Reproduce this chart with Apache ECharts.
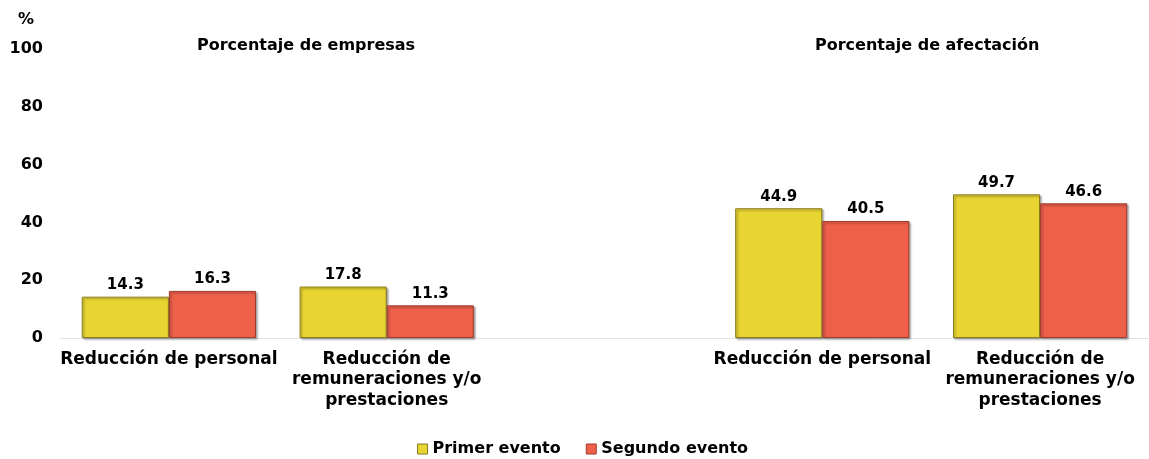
<!DOCTYPE html>
<html lang="es">
<head>
    <meta charset="UTF-8">
    <title>Reducción de personal y remuneraciones</title>
    <style type="text/css">
        html, body { margin: 0; padding: 0; background: #fff; }
        #chart { width: 1149px; height: 459px; }
    </style>
</head>
<body>
<div id="chart"></div>
<script src="https://cdn.jsdelivr.net/npm/echarts@6/dist/echarts.min.js"></script>
<script>
    // categorias (la del medio queda vacia para separar los dos bloques)
    var categorias = ['Reducción de personal', 'Reducción de\nremuneraciones y/o\nprestaciones', '',
        'Reducción de personal', 'Reducción de\nremuneraciones y/o\nprestaciones'];
    var primerEvento = [14.3, 17.8, '-', 44.9, 49.7];
    var segundoEvento = [16.3, 11.3, '-', 40.5, 46.6];
    var ticksY = [0, 20, 40, 60, 80, 100];

    var fuente = '"DejaVu Sans", Verdana, sans-serif';
    var myChart = echarts.init(document.getElementById('chart'));

    function barra(nombre, datos, color, borde) {
        return {
            name: nombre,
            type: 'bar',
            data: datos,
            barGap: '0%',
            barCategoryGap: '20%',
            itemStyle: {
                color: color,
                borderColor: borde,
                borderWidth: 1,
                shadowColor: 'rgba(0,0,0,0.35)',
                shadowBlur: 2,
                shadowOffsetX: 1.5,
                shadowOffsetY: 1.5
            },
            label: {
                show: true,
                position: 'top',
                distance: 4,
                color: '#000',
                fontFamily: fuente,
                fontWeight: 'bold',
                fontSize: 15
            }
        };
    }

    var option = {
        animation: false,
        grid: { left: 60, right: -5, top: 49, bottom: 121 },
        legend: {
            top: 436,
            left: 412,
            itemWidth: 10,
            itemHeight: 10,
            itemGap: 25,
            icon: 'rect',
            textStyle: { fontFamily: fuente, fontWeight: 'bold', fontSize: 16, color: '#000' },
            data: [
                { name: 'Primer evento', itemStyle: { borderColor: '#8a7a1c', borderWidth: 1 } },
                { name: 'Segundo evento', itemStyle: { borderColor: '#9e3b2c', borderWidth: 1 } }
            ]
        },
        graphic: [
            { type: 'text', left: 18, top: 12, style: { text: '%', font: 'bold 16px ' + fuente, fill: '#000' } },
            { type: 'text', left: 197, top: 38, style: { text: 'Porcentaje de empresas', font: 'bold 16px ' + fuente, fill: '#000' } },
            { type: 'text', left: 815, top: 38, style: { text: 'Porcentaje de afectación', font: 'bold 16px ' + fuente, fill: '#000' } }
        ],
        xAxis: {
            type: 'category',
            data: categorias,
            axisTick: { show: false },
            axisLine: { lineStyle: { color: '#e3e3e3', width: 1 } },
            axisLabel: {
                interval: 0,
                margin: 11,
                color: '#000',
                fontFamily: fuente,
                fontWeight: 'bold',
                fontSize: 17,
                lineHeight: 20.5
            }
        },
        yAxis: {
            type: 'value',
            min: ticksY[0],
            max: ticksY[ticksY.length - 1],
            interval: 20,
            splitLine: { show: false },
            axisLine: { show: false },
            axisTick: { show: false },
            axisLabel: {
                margin: 17,
                color: '#000',
                fontFamily: fuente,
                fontWeight: 'bold',
                fontSize: 16
            }
        },
        series: [
            barra('Primer evento', primerEvento, '#E8D532', '#8a7a1c'),
            barra('Segundo evento', segundoEvento, '#EE604A', '#9e3b2c')
        ]
    };
    myChart.setOption(option);
</script>
</body>
</html>
